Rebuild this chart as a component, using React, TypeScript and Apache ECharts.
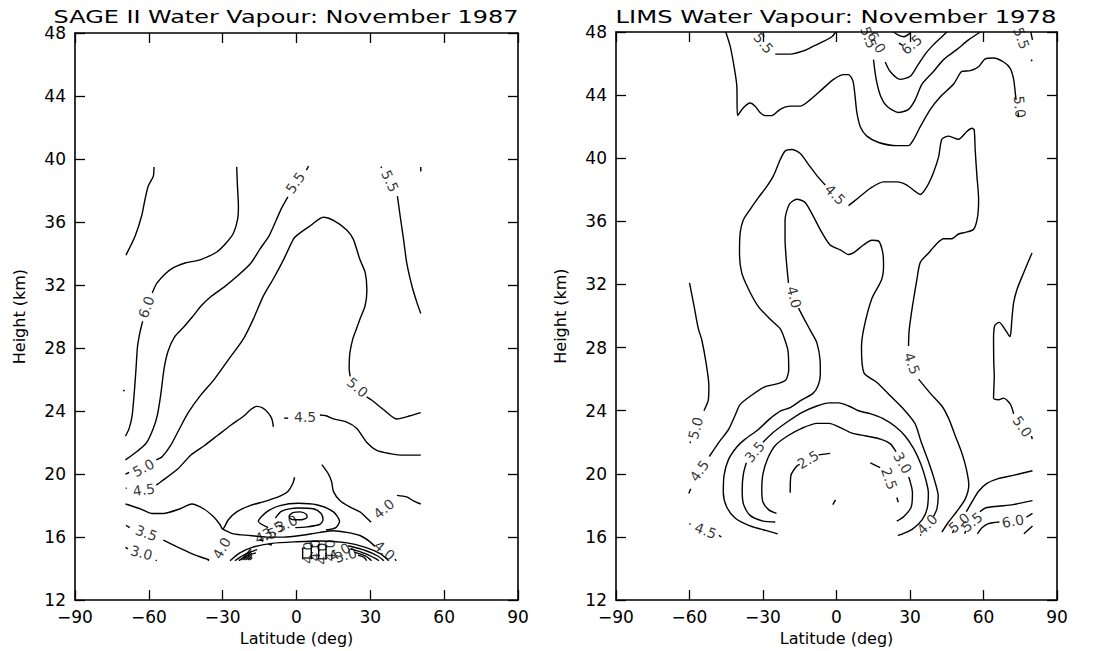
import React, { useEffect, useRef } from "react";
import * as echarts from "echarts";

// ---------- axes ----------
const latTicks = [-90, -60, -30, 0, 30, 60, 90];
const heightTicks = [12, 16, 20, 24, 28, 32, 36, 40, 44, 48];

type Pt = [number, number];
type Lab = [number, number, string, number];

// ---------- SAGE II contours [lat, km] ----------
const sageUpperLeft: Pt[] = [[-57.9,39.5],[-58.2,38.9],[-60.2,38.3],[-61.6,37.4],[-62.9,36.4],[-65.6,35.1],[-69.3,33.9]];
const sage60a: Pt[] = [[-24.3,39.5],[-24.0,38.3],[-23.6,37.0],[-23.9,36.2],[-25.6,35.3],[-28.4,34.7],[-32.4,34.1],[-39.2,33.6],[-45.3,33.4],[-50.0,33.1],[-53.4,32.7],[-56.8,32.1],[-58.6,31.5]];
const sage60b: Pt[] = [[-62.5,29.7],[-63.6,29.0],[-64.6,28.1],[-65.2,26.7],[-65.9,25.2],[-66.8,23.7],[-68.0,22.9],[-69.5,22.4]];
const sageDot1: Pt[] = [[-70.5,25.3],[-69.8,25.3]];
const sage55Dash: Pt[] = [[4.0,39.3],[4.9,39.55]];
const sage55a: Pt[] = [[-3.5,37.6],[-6.0,36.9],[-8.3,36.1],[-11.2,35.1],[-14.8,34.3],[-18.5,33.4],[-23.8,32.6],[-29.2,31.9],[-34.5,31.3],[-38.6,30.7],[-42.2,30.0],[-46.0,29.3],[-49.6,28.7],[-52.2,27.8],[-53.8,26.7],[-55.2,25.0],[-56.6,23.7],[-58.2,22.9],[-60.9,22.0],[-64.3,21.5],[-69.5,20.9]];
const sage50Dash: Pt[] = [[-69.5,20.0],[-68.0,20.1]];
const sage50a: Pt[] = [[-57.0,20.9],[-54.6,21.1],[-51.2,21.8],[-47.8,22.8],[-44.0,23.9],[-39.0,25.0],[-33.5,26.0],[-27.5,27.3],[-21.5,28.6],[-17.5,29.85],[-13.5,31.3],[-9.4,32.4],[-5.3,33.6],[-1.3,34.9],[0.5,35.2],[5.5,35.75],[10.9,36.3],[15.0,36.1],[20.4,35.5],[23.1,34.9],[25.8,33.6],[27.9,32.8],[28.6,31.7],[27.9,30.7],[25.8,29.85],[24.3,29.2],[22.9,28.6],[21.7,27.7],[21.4,26.7],[21.8,26.2]];
const sage50b: Pt[] = [[28.5,24.9],[30.5,24.7],[35.3,24.1],[40.7,23.5],[46.2,23.7],[50.5,23.9]];
const sage55bDot: Pt[] = [[34.2,39.5],[34.7,39.45]];
const sage55b: Pt[] = [[41.0,37.65],[42.1,36.4],[43.5,34.9],[44.8,33.4],[46.8,32.0],[48.9,30.9],[50.5,30.2]];
const sage55bTick: Pt[] = [[50.5,39.5],[50.5,39.2]];
const sage45Dot: Pt[] = [[-69.4,19.1],[-69.0,19.1]];
const sage45a: Pt[] = [[-57.0,19.3],[-55.2,19.5],[-48.4,20.3],[-43.0,21.2],[-37.5,21.8],[-32.1,22.45],[-26.7,23.1],[-21.3,23.7],[-18.6,24.1],[-16.2,24.3],[-13.8,24.2],[-11.6,23.9],[-10.0,23.5],[-9.4,23.0]];
const sage45Dash: Pt[] = [[-5.0,23.55],[-3.4,23.55]];
const sage45b: Pt[] = [[9.5,23.75],[12.0,23.7],[15.0,23.5],[20.4,23.3],[24.5,22.9],[28.6,22.0],[32.6,21.5],[38.0,21.3],[43.5,21.2],[50.5,21.2]];
const sage40a: Pt[] = [[10.3,20.6],[13.0,20.0],[14.3,19.5],[15.0,18.9],[17.7,18.3],[21.8,17.9],[25.8,17.6],[28.6,17.2],[30.3,16.95]];
const sage40b: Pt[] = [[40.8,18.65],[44.8,18.55],[47.5,18.3],[50.5,18.1]];
const sageV: Pt[] = [[-69.5,18.1],[-63.6,17.8],[-58.8,17.5],[-54.1,17.5],[-47.3,17.8],[-42.6,18.1],[-37.8,17.8],[-33.8,17.3],[-31.1,16.8],[-30.0,16.5],[-27.7,17.1],[-24.3,17.6],[-18.9,18.0],[-12.1,18.3],[-6.7,18.6],[-3.5,18.9],[-1.5,19.4],[-0.8,19.8]];
const sageLow: Pt[] = [[-30.0,16.5],[-25.6,16.2],[-18.9,16.1],[-12.1,16.0],[-5.3,16.0],[1.5,16.1],[9.6,16.3],[15.0,16.4],[20.4,16.3],[25.8,16.1],[29.9,15.7],[31.9,15.4]];
const sageLowDot: Pt[] = [[40.0,14.6],[40.5,14.5]];
const sageOuterLoop: Pt[] = [[-11.5,16.6],[-15.5,17.0],[-12.1,17.6],[-6.7,18.0],[0.8,18.15],[8.2,18.05],[15.0,17.6],[17.5,17.0],[16.0,16.6],[12.0,16.45]];
const sageInnerLoop: Pt[] = [[-0.5,16.6],[4.2,16.65],[9.4,16.8],[10.8,17.1],[10.0,17.5],[6.8,17.8],[0.4,17.85],[-6.0,17.65],[-8.6,17.2]];
const sageEllipse: Pt[] = [[-3.0,17.35],[-1.5,17.55],[1.5,17.6],[4.0,17.45],[4.3,17.25],[2.0,17.1],[-1.0,17.1],[-2.8,17.2],[-3.0,17.35]];
const sage35Dash: Pt[] = [[-69.3,16.75],[-67.8,16.6]];
const sage35: Pt[] = [[-54.1,15.8],[-48.7,15.4],[-43.3,15.0],[-39.2,14.75],[-35.5,14.55]];
const sage30Dash: Pt[] = [[-69.5,15.35],[-68.5,15.25]];
const sage30Dot: Pt[] = [[-57.2,14.55],[-56.8,14.5]];
const sageDot2: Pt[] = [[-36.0,14.55],[-35.6,14.5]];
const sageDome1: Pt[] = [[-27.0,14.5],[-23.0,15.0],[-18.0,15.35],[-10.0,15.6],[0.0,15.7],[10.0,15.75],[20.0,15.65],[28.0,15.35],[34.0,14.95],[37.5,14.5]];
const sageDome2L: Pt[] = [[-25.0,14.5],[-21.0,14.9],[-16.0,15.2]];
const sageDome3L: Pt[] = [[-23.5,14.5],[-19.5,14.85],[-16.5,15.0]];
const sageDome2R: Pt[] = [[21.0,15.45],[28.0,15.15],[33.0,14.8],[35.5,14.5]];
const sageDome3R: Pt[] = [[22.0,15.25],[28.0,14.95],[32.0,14.65],[33.5,14.5]];
const sageDome4R: Pt[] = [[23.5,15.05],[28.0,14.8],[30.5,14.5]];
const sageDome5R: Pt[] = [[25.0,14.85],[27.5,14.7],[28.5,14.5]];
const sageHatch1: Pt[] = [[-22.5,14.55],[-18.5,15.25]];
const sageHatch2: Pt[] = [[-21.6,14.55],[-18.3,15.12]];
const sageHatch3: Pt[] = [[-20.7,14.55],[-18.2,14.98]];
const sageHatch4: Pt[] = [[-19.8,14.55],[-18.1,14.84]];
const sageHatch5: Pt[] = [[-19.0,14.55],[-18.0,14.7]];
const sageDash3: Pt[] = [[-15.0,15.8],[-13.4,15.8]];
const sageDash4: Pt[] = [[-11.5,15.55],[-10.0,15.5]];
const sageBar1: Pt[] = [[2.5,14.6],[2.5,15.3],[3.5,15.3]];
const sageBar2: Pt[] = [[6.0,14.6],[6.0,15.5]];
const sageBar3: Pt[] = [[9.0,14.6],[9.0,15.55]];
const sageBar4: Pt[] = [[12.0,14.6],[12.0,15.5]];

const sageContours: Pt[][] = [
  sageUpperLeft, sage60a, sage60b, sageDot1, sage55Dash, sage55a, sage50Dash, sage50a, sage50b,
  sage55bDot, sage55b, sage55bTick, sage45Dot, sage45a, sage45Dash, sage45b, sage40a, sage40b,
  sageV, sageLow, sageLowDot, sageOuterLoop, sageInnerLoop, sageEllipse, sage35Dash, sage35,
  sage30Dash, sage30Dot, sageDot2, sageDome1, sageDome2L, sageDome3L, sageDome2R, sageDome3R,
  sageDome4R, sageDome5R, sageHatch1, sageHatch2, sageHatch3, sageHatch4, sageHatch5,
  sageDash3, sageDash4, sageBar1, sageBar2, sageBar3, sageBar4,
];

// [lat, km, text, rotation(deg)]
const sageLabels: Lab[] = [
  [-0.5, 38.5, "5.5", 55],
  [-61.0, 30.6, "6.0", 70],
  [38.0, 38.6, "5.5", -65],
  [24.8, 25.5, "5.0", -40],
  [3.5, 23.6, "4.5", 0],
  [-62.2, 20.4, "5.0", 28],
  [-62.0, 19.0, "4.5", 8],
  [35.5, 17.8, "4.0", 40],
  [-61.0, 16.25, "3.5", -20],
  [-63.0, 15.0, "3.0", -15],
  [-30.4, 15.3, "4.0", 60],
  [35.8, 15.15, "4.0", -40],
  [-4.0, 16.85, "3.0", 25],
  [-9.5, 16.45, "3.5", 30],
  [-12.5, 16.1, "4.5", 20],
  [4.5, 15.0, "4.0", 90],
  [7.5, 15.15, "4.0", 90],
  [10.5, 14.95, "4.0", 90],
  [13.5, 15.15, "4.0", 90],
  [17.5, 15.05, "4.0", 30],
  [20.0, 14.85, "3.0", 15],
];

// ---------- LIMS contours [lat, km] ----------
const lims50Long: Pt[] = [[-45.2,48.0],[-43.4,47.1],[-41.8,45.8],[-40.7,44.6],[-40.4,42.7],[-38.0,43.2],[-35.3,43.5],[-33.2,43.3],[-31.2,42.9],[-29.1,42.7],[-26.4,42.7],[-23.0,43.1],[-18.9,43.3],[-14.8,43.3],[-10.8,43.7],[-6.0,44.35],[-1.2,45.0],[2.9,45.3],[4.9,45.3],[6.7,44.9],[7.6,43.9],[8.3,42.9],[9.7,42.0],[12.4,41.4],[17.2,41.0],[24.7,40.8],[29.4,40.8],[31.5,41.2],[34.2,42.0],[38.3,43.1],[42.4,43.9],[47.8,44.7],[51.2,45.5],[54.6,45.55],[58.0,45.8],[60.7,46.3],[64.1,46.35],[68.2,46.1],[70.9,45.7],[72.3,45.0],[73.0,44.1],[73.3,43.7]];
const lims50Tick: Pt[] = [[74.2,42.9],[74.2,42.6]];
const lims55TopLeft: Pt[] = [[-25.0,46.6],[-18.9,46.6],[-13.5,46.8],[-9.4,47.1],[-5.3,47.4],[-1.9,47.7],[-0.3,48.0]];
const lims55U: Pt[] = [[15.1,46.25],[16.2,45.0],[18.1,43.9],[20.6,43.3],[25.3,42.9],[29.4,43.1],[32.1,43.7],[34.9,44.7],[39.6,45.5],[43.7,46.25],[49.2,46.9],[53.9,47.5],[58.7,48.0]];
const lims60U: Pt[] = [[19.9,46.1],[21.9,45.5],[26.0,45.0],[30.1,45.2],[32.8,45.8],[36.2,46.6],[39.6,47.2],[43.0,47.7],[45.1,48.0]];
const lims65Loop: Pt[] = [[23.3,48.0],[25.3,47.8],[27.6,47.7],[29.8,47.9],[30.3,48.0]];
const lims65Dash: Pt[] = [[25.5,47.3],[27.0,47.15]];
const lims55TopRight: Pt[] = [[79.3,48.0],[80.0,47.5]];
const lims55TrDot: Pt[] = [[79.5,46.25],[79.8,46.15]];
const lims45Left: Pt[] = [[-4.6,38.3],[-8.0,38.9],[-11.4,39.6],[-14.8,40.3],[-18.2,40.55],[-21.0,40.45],[-23.0,39.9],[-25.7,38.9],[-28.5,38.2],[-31.9,37.5],[-35.3,36.75],[-38.0,36.1],[-39.3,35.3],[-39.6,34.0],[-38.7,32.75],[-35.9,31.7],[-31.9,30.6],[-26.4,29.7],[-23.0,29.2],[-21.3,28.6],[-19.8,27.8],[-19.5,26.6],[-20.7,25.95],[-24.4,25.7],[-29.5,25.5],[-34.5,25.0],[-39.3,24.4],[-41.4,23.7],[-44.1,22.8],[-47.5,22.1],[-51.9,21.1]];
const lims45LeftDash: Pt[] = [[-60.3,18.75],[-59.5,19.05]];
const lims45Right: Pt[] = [[4.9,37.0],[9.0,37.5],[13.8,38.1],[19.2,38.5],[24.7,38.5],[28.7,38.3],[32.1,37.9],[34.2,37.7],[36.9,38.2],[39.6,39.1],[41.7,40.1],[43.0,41.2],[45.8,41.4],[49.8,41.2],[53.2,41.7],[55.3,41.9],[56.2,41.8],[56.6,40.55],[57.3,38.9],[58.0,37.4],[57.6,36.3],[56.0,35.5],[52.6,35.3],[49.8,35.2],[47.1,34.9],[43.7,34.9],[41.0,34.6],[37.6,34.0],[34.2,33.4],[32.8,32.3],[31.5,31.1],[30.4,30.0],[29.6,29.0],[29.4,28.1]];
const lims45RightLow: Pt[] = [[33.5,26.0],[38.3,25.1],[43.0,24.3],[45.8,23.5],[48.5,22.4],[51.2,21.3],[53.0,20.3],[54.0,19.3],[52.5,18.4],[49.0,17.6],[45.5,16.9],[43.0,16.3]];
const lims40Top: Pt[] = [[-19.6,32.1],[-20.3,33.2],[-21.0,34.85],[-21.0,36.1],[-19.2,37.1],[-16.2,37.4],[-12.8,37.2],[-9.4,36.3],[-6.0,35.3],[-2.6,34.5],[1.5,34.2],[4.9,33.9],[6.9,34.0],[11.0,34.5],[14.4,34.8],[17.2,34.75],[18.9,34.0],[19.2,33.2],[18.4,32.3],[14.4,31.1],[11.2,29.25],[10.2,28.0],[11.2,26.4],[16.4,25.8],[21.6,25.0],[26.8,24.2],[32.0,23.2],[34.6,22.0],[37.5,20.8],[40.0,19.6],[41.5,18.6],[41.0,17.8],[39.6,17.3]];
const lims40Left: Pt[] = [[-15.5,30.5],[-13.5,29.9],[-10.0,28.9],[-8.0,28.3],[-6.7,27.2],[-6.6,26.3],[-7.5,25.6],[-9.6,25.1],[-14.0,24.7],[-18.9,24.2],[-22.6,24.0],[-27.1,23.5],[-32.0,22.8],[-37.3,22.2],[-40.7,21.7],[-44.1,20.9],[-45.9,19.9],[-46.2,18.8],[-44.8,17.9],[-41.4,17.2],[-35.3,16.7],[-28.5,16.4],[-24.0,16.2]];
const lims40Dot: Pt[] = [[34.2,16.15],[34.6,16.1]];
const lims35a: Pt[] = [[-25.0,16.95],[-30.0,17.0],[-35.5,17.4],[-38.0,18.1],[-38.5,19.0],[-38.0,20.0],[-36.8,20.7]];
const lims35b: Pt[] = [[-30.0,22.0],[-26.0,22.6],[-20.0,23.3],[-14.0,23.9],[-8.0,24.3],[-3.0,24.5],[1.0,24.5],[5.0,24.3],[9.0,24.0],[14.0,23.8],[19.0,23.5],[24.0,23.0],[28.0,22.4],[31.5,21.6],[34.5,20.6],[36.5,19.6],[37.5,18.8],[37.0,17.8],[35.0,17.1],[31.0,16.5],[27.0,16.2],[25.0,16.1]];
const lims30a: Pt[] = [[-24.5,17.5],[-27.5,17.7],[-30.0,18.2],[-30.5,19.0],[-30.0,20.0],[-28.0,21.0],[-25.0,21.8],[-20.0,22.4],[-14.0,22.9],[-8.0,23.2],[-3.0,23.2],[2.0,22.9],[6.0,22.6],[12.0,22.4],[18.0,22.2],[22.0,21.9],[24.3,21.4]];
const lims30b: Pt[] = [[29.5,19.8],[31.0,18.8],[30.5,17.9],[27.5,17.3],[24.6,17.0]];
const lims25La: Pt[] = [[-18.9,18.8],[-18.6,19.9],[-16.2,20.5],[-15.0,20.6]];
const lims25Lb: Pt[] = [[-7.3,21.2],[-2.6,21.3]];
const lims25R: Pt[] = [[13.8,20.7],[17.8,20.4]];
const lims25RDash: Pt[] = [[24.6,18.5],[25.2,18.2]];
const limsCenterDot: Pt[] = [[-1.5,18.05],[-0.4,18.35]];
const lims50FarLeft: Pt[] = [[-60.0,32.1],[-58.1,30.6],[-56.4,29.2],[-55.0,28.5],[-53.2,27.0],[-52.1,25.6],[-52.3,24.7],[-54.1,24.0]];
const lims50FarLeftDot: Pt[] = [[-59.8,22.05],[-59.6,21.95]];
const lims50FarRight: Pt[] = [[79.8,34.0],[76.4,32.75],[73.7,31.7],[72.3,30.85],[71.6,29.8],[71.2,29.0],[70.8,28.7],[69.0,29.1],[66.4,29.6],[64.6,29.4],[64.1,28.5],[64.2,27.0],[64.4,26.2],[64.1,24.8],[66.2,24.7],[68.2,24.8],[71.0,24.4],[72.3,23.8]];
const lims50FarRightDot: Pt[] = [[79.6,22.4],[79.9,22.2]];
const lims45BotDot: Pt[] = [[-60.0,16.85],[-59.6,16.8]];
const lims45BotDash: Pt[] = [[-48.0,16.1],[-47.0,16.0]];
const lims50BotDash: Pt[] = [[47.3,16.25],[47.9,16.45]];
const lims50Bot: Pt[] = [[53.0,17.6],[55.6,18.3],[58.0,18.9],[61.4,19.4],[66.0,19.7],[72.0,19.9],[80.0,20.2]];
const lims55BotDash: Pt[] = [[52.3,16.2],[52.8,16.4]];
const lims55Bot: Pt[] = [[58.5,17.6],[61.0,17.85],[66.0,17.95],[72.0,18.05],[80.0,18.3]];
const lims60Bot: Pt[] = [[57.5,16.2],[59.5,16.6],[62.0,16.85],[66.5,16.95]];
const lims60BotR: Pt[] = [[77.5,17.25],[80.0,17.5]];
const limsBotCorner: Pt[] = [[76.5,16.2],[80.0,16.7]];

const limsContours: Pt[][] = [
  lims50Long, lims50Tick, lims55TopLeft, lims55U, lims60U, lims65Loop, lims65Dash, lims55TopRight,
  lims55TrDot, lims45Left, lims45LeftDash, lims45Right, lims45RightLow, lims40Top, lims40Left,
  lims40Dot, lims35a, lims35b, lims30a, lims30b, lims25La, lims25Lb, lims25R, lims25RDash,
  limsCenterDot, lims50FarLeft, lims50FarLeftDot, lims50FarRight, lims50FarRightDot, lims45BotDot,
  lims45BotDash, lims50BotDash, lims50Bot, lims55BotDash, lims55Bot, lims60Bot, lims60BotR, limsBotCorner,
];

const limsLabels: Lab[] = [
  [-29.8, 47.3, "5.5", -50],
  [13.1, 47.65, "5.5", -70],
  [16.4, 47.35, "6.0", -60],
  [30.6, 47.2, "6.5", 40],
  [75.5, 47.6, "5.5", -70],
  [74.8, 43.25, "5.0", -85],
  [-0.5, 37.7, "4.5", -45],
  [-17.3, 31.2, "4.0", -75],
  [30.8, 27.0, "4.5", -70],
  [75.8, 23.0, "5.0", -55],
  [-57.5, 22.9, "5.0", 75],
  [-56.0, 20.2, "4.5", 55],
  [-33.4, 21.4, "3.5", 50],
  [-11.6, 20.9, "2.5", 30],
  [27.0, 20.7, "3.0", -60],
  [21.5, 19.7, "2.5", -70],
  [-53.4, 16.4, "4.5", -20],
  [37.0, 16.8, "4.0", 45],
  [50.0, 16.9, "5.0", 40],
  [55.3, 16.95, "5.5", 40],
  [72.0, 17.0, "6.0", 10],
];

const titles = ["SAGE II Water Vapour: November 1987", "LIMS Water Vapour: November 1978"];
const FONT = '"DejaVu Sans", "Liberation Sans", sans-serif';

function latFmt(v: number) {
  return v < 0 ? "\u2212" + Math.abs(v) : String(v);
}

export default function App() {
  const ref = useRef<HTMLDivElement>(null);
  useEffect(() => {
    const chart = echarts.init(ref.current!, null, { renderer: "svg" });
    const grids = [
      { left: 75, top: 33, width: 443, height: 569 },
      { left: 616, top: 32, width: 441, height: 569 },
    ];
    const xMin = latTicks[0], xMax = latTicks[latTicks.length - 1], xInt = latTicks[1] - latTicks[0];
    const yMin = heightTicks[0], yMax = heightTicks[heightTicks.length - 1], yInt = heightTicks[1] - heightTicks[0];
    const lineStyle = { color: "#000", width: 1.6 };
    const tick = { show: true, inside: true, length: 10, lineStyle: { color: "#000", width: 1.3 } };
    const xAxis: any[] = [];
    const yAxis: any[] = [];
    grids.forEach((_, i) => {
      xAxis.push({
        type: "value", gridIndex: i, min: xMin, max: xMax, interval: xInt, position: "bottom",
        axisLine: { show: true, onZero: false, lineStyle }, axisTick: tick, splitLine: { show: false },
        axisLabel: { show: true, color: "#000", fontSize: 17, fontFamily: FONT, margin: 8, formatter: latFmt },
        name: "Latitude (deg)", nameLocation: "middle", nameGap: 28,
        nameTextStyle: { color: "#000", fontSize: 16, fontFamily: FONT },
      });
      xAxis.push({
        type: "value", gridIndex: i, min: xMin, max: xMax, interval: xInt, position: "top",
        axisLine: { show: true, onZero: false, lineStyle }, axisTick: tick, splitLine: { show: false },
        axisLabel: { show: false },
      });
      yAxis.push({
        type: "value", gridIndex: i, min: yMin, max: yMax, interval: yInt, position: "left",
        axisLine: { show: true, onZero: false, lineStyle }, axisTick: tick, splitLine: { show: false },
        axisLabel: { show: true, color: "#000", fontSize: 17, fontFamily: FONT, margin: 9 },
        name: "Height (km)", nameLocation: "middle", nameGap: 48,
        nameTextStyle: { color: "#000", fontSize: 16, fontFamily: FONT },
      });
      yAxis.push({
        type: "value", gridIndex: i, min: yMin, max: yMax, interval: yInt, position: "right",
        axisLine: { show: true, onZero: false, lineStyle }, axisTick: tick, splitLine: { show: false },
        axisLabel: { show: false },
      });
    });

    const labelStyle = { color: "#000", fontSize: 14, fontFamily: FONT, fontWeight: "normal", textBorderWidth: 0 };
    const series: any[] = [];
    const addPanel = (contours: Pt[][], labels: Lab[], axisIdx: number) => {
      contours.forEach((c) => {
        series.push({
          type: "line", xAxisIndex: axisIdx, yAxisIndex: axisIdx, data: c,
          symbol: "none", showSymbol: false, smooth: 0.25, silent: true,
          lineStyle: { color: "#000", width: 1.4 },
        });
      });
      series.push({
        type: "scatter", xAxisIndex: axisIdx, yAxisIndex: axisIdx, symbolSize: 1, silent: true,
        itemStyle: { color: "rgba(0,0,0,0)" },
        label: { show: true, position: "inside", formatter: "{b}", ...labelStyle },
        data: labels.map(([x, y, t, r]) => ({ value: [x, y], name: t, label: { rotate: r, ...labelStyle } })),
      });
    };
    addPanel(sageContours, sageLabels, 0);
    addPanel(limsContours, limsLabels, 2);

    chart.setOption({
      animation: false,
      backgroundColor: "#fff",
      grid: grids.map((g) => ({ ...g, show: false, containLabel: false })),
      xAxis, yAxis, series,
      graphic: [
        { type: "text", x: 286, y: 17, scaleX: 1.33, style: { text: titles[0], font: `18px ${FONT}`, fill: "#000", align: "center", verticalAlign: "middle", textAlign: "center", textVerticalAlign: "middle" } },
        { type: "text", x: 836, y: 17, scaleX: 1.35, style: { text: titles[1], font: `18px ${FONT}`, fill: "#000", align: "center", verticalAlign: "middle", textAlign: "center", textVerticalAlign: "middle" } },
      ],
    });
    return () => chart.dispose();
  }, []);
  return <div ref={ref} style={{ position: "fixed", left: 0, top: 0, width: 1100, height: 651, background: "#fff" }} />;
}
